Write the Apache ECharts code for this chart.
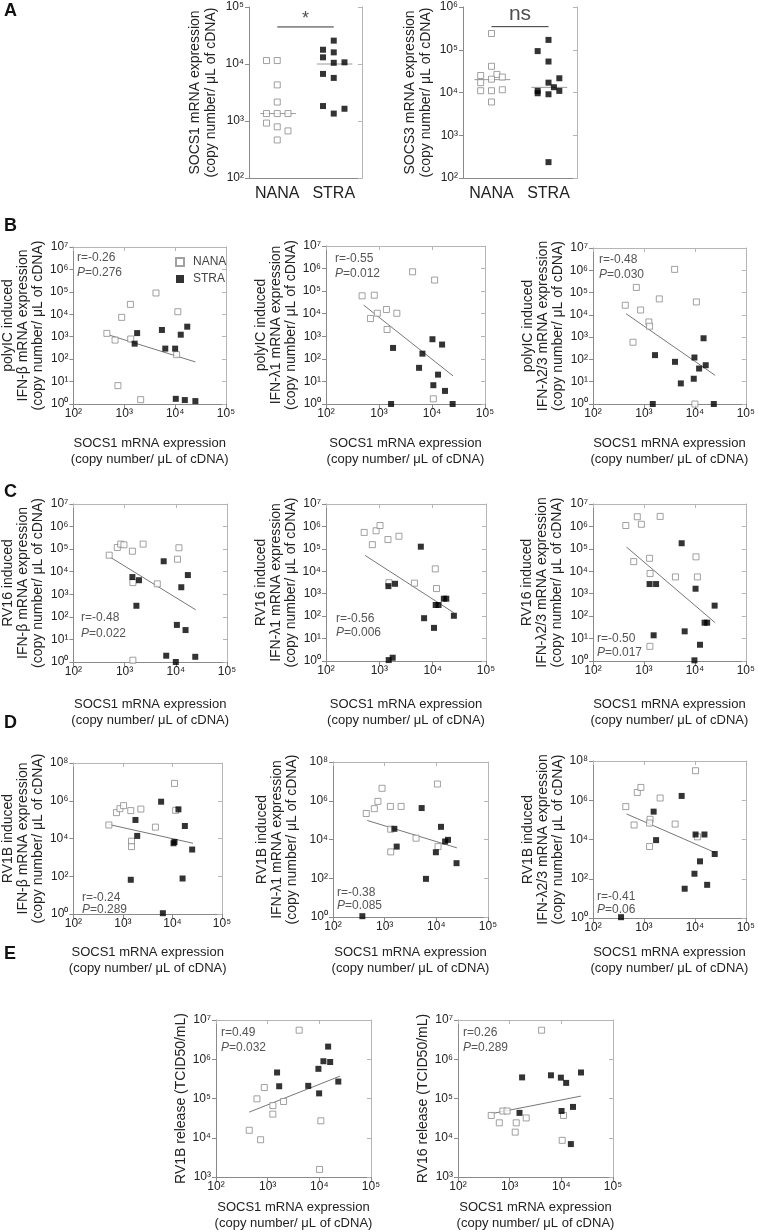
<!DOCTYPE html>
<html lang="en">
  <head>
    <meta charset="UTF-8" />
    <title>SOCS1 figure</title>
    <style>
      html, body { margin: 0; padding: 0; background: #fff; }
    </style>
  </head>
  <body>
    <div id="main" style="width: 758px; height: 1232px"></div>

    <script src="https://cdn.jsdelivr.net/npm/echarts@6/dist/echarts.min.js"></script>
    <script>
      // ===== data =====
      const groups = ['NANA', 'STRA']

      // panel A: per-subject values, col = jitter slot inside the column
      const socs1Nana = [11500, 11500, 4300, 2150, 1350, 1350, 1350, 920, 790, 670, 465]
      const socs1NanaCol = [-1, 0, 0, 0, -1, 0, 1, -1, 0, 1, 0]
      const socs1Stra = [25700, 17800, 16000, 13100, 10500, 10700, 6700, 5700, 1830, 1640, 1350]
      const socs1StraCol = [0, -1, 0, -1, 0, 1, -1, 0, -1, 1, 0]
      const socs1Median = [1350, 10000]

      const socs3Nana = [240000, 41000, 25000, 26500, 23000, 20500, 17000, 11000, 11000, 11600, 6000]
      const socs3NanaCol = [0, 0, -1, 0.5, 1, 0, -1, -1, 0, 1, 0]
      const socs3Stra = [170000, 93000, 53000, 21500, 17000, 13300, 10900, 10900, 9600, 9100, 235]
      const socs3StraCol = [0, -1, 0, 1, 0, 0.5, -1, 1, -1, 0, 0]
      const socs3Median = [20000, 13200]

      // panel B: polyIC induced
      const bBetaNanaX = [455, 660, 890, 1320, 1340, 750, 2100, 4200, 11300, 10700]
      const bBetaNanaY = [1410, 710, 7300, 27700, 790, 6.6, 1.56, 89000, 13000, 158]
      const bBetaStraX = [1790, 1600, 5500, 6400, 10000, 12900, 17300, 10300, 15500, 25000]
      const bBetaStraY = [1450, 490, 2000, 295, 295, 1230, 2800, 1.7, 1.5, 1.35]
      const bBetaFit = [[525, 1150], [25000, 75]]

      const bL1NanaX = [480, 815, 690, 930, 1380, 2170, 1420, 4300, 11200, 10600]
      const bL1NanaY = [62000, 66000, 6100, 10500, 15300, 10500, 2000, 720000, 310000, 1.7]
      const bL1StraX = [1840, 1690, 6600, 5700, 10200, 15500, 13000, 10600, 17600, 24500]
      const bL1StraY = [305, 1.0, 170, 40, 740, 430, 20, 6.8, 3.8, 1.0]
      const bL1Fit = [[515, 24000], [25000, 17.5]]

      const bL23NanaX = [430, 710, 860, 1250, 1290, 610, 2000, 4000, 10700, 10000]
      const bL23NanaY = [27000, 170000, 16500, 4800, 3100, 590, 52000, 1100000, 38000, 1]
      const bL23StraX = [1650, 1490, 4070, 5300, 9800, 9500, 14800, 12100, 16300, 23500]
      const bL23StraY = [156, 1, 78, 8.4, 122, 13.6, 890, 39, 55, 1]
      const bL23Fit = [[445, 11300], [25000, 19.3]]

      // panel C: RV16 induced
      const cBetaNanaX = [500, 720, 840, 970, 1420, 2300, 1450, 4350, 11500, 10800, 1450]
      const cBetaNanaY = [54000, 118000, 167000, 156000, 81000, 167000, 3300, 2900, 115000, 35800, 1.2]
      const cBetaStraX = [1420, 1910, 1700, 5800, 12800, 17200, 10500, 15500, 6500, 10000, 24000]
      const cBetaStraY = [5800, 4200, 310, 29000, 2050, 7100, 44, 26, 1.9, 1, 1.7]
      const cBetaFit = [[515, 45000], [24500, 205]]

      const cL1NanaX = [520, 740, 870, 1030, 1450, 2330, 1510, 4550, 11200, 11800]
      const cL1NanaY = [540000, 154000, 640000, 1100000, 260000, 365000, 3100, 2960, 12800, 1700]
      const cL1StraX = [1480, 1970, 6000, 6900, 10600, 11400, 12900, 16200, 18000, 25000, 1500, 1780]
      const cL1StraY = [2180, 2770, 125000, 81, 30, 314, 314, 600, 600, 104, 1.1, 1.4]
      const cL1Fit = [[540, 51000], [25000, 141]]

      const cL23NanaX = [440, 740, 890, 2080, 630, 1290, 1320, 4150, 10500, 11200, 1310]
      const cL23NanaY = [1100000, 2700000, 1250000, 2800000, 27000, 38000, 8000, 5600, 44000, 5600, 4.5]
      const cL23StraX = [1290, 1730, 5500, 10300, 24400, 15500, 17400, 6300, 1550, 12600, 9800]
      const cL23StraY = [2700, 2700, 178000, 1670, 294, 51, 51, 21, 14, 5.3, 1.07]
      const cL23Fit = [[455, 120000], [25000, 51]]

      // panel D: RV1B induced
      const dBetaNanaX = [520, 740, 870, 1030, 1440, 2300, 1490, 1490, 4530, 11000, 11600]
      const dBetaNanaY = [52000, 234000, 380000, 550000, 300000, 363000, 7200, 3700, 40000, 8300000, 310000]
      const dBetaStraX = [1790, 1940, 1440, 5900, 13200, 17800, 10500, 11000, 25000, 16000, 6400]
      const dBetaStraY = [96000, 13700, 65, 890000, 350000, 46000, 5600, 6600, 2600, 76, 1.1]
      const dBetaFit = [[510, 56000], [26000, 5600]]

      const dL1NanaX = [440, 630, 740, 890, 1290, 2080, 1310, 1310, 4050, 10500, 10800]
      const dL1NanaY = [220000, 390000, 930000, 4400000, 510000, 510000, 34000, 2300, 11700, 7300000, 4300]
      const dL1StraX = [1540, 1710, 5200, 12300, 9800, 14800, 16800, 24600, 6300, 370]
      const dL1StraY = [35600, 4300, 420000, 45000, 2200, 7900, 9600, 600, 93, 1.1]
      const dL1Fit = [[460, 96000], [25000, 3700]]

      const dL23NanaX = [440, 740, 870, 640, 1320, 1290, 2080, 1290, 4100, 10300, 11200]
      const dL23NanaY = [475000, 2500000, 4500000, 55000, 107000, 69000, 1300000, 4400, 61000, 32000000, 13700]
      const dL23StraX = [1550, 1730, 5500, 10300, 15400, 24500, 12600, 9800, 6300, 17400, 355]
      const dL23StraY = [263000, 9300, 1660000, 18000, 18000, 1830, 770, 180, 31, 49, 1.1]
      const dL23Fit = [[455, 200000], [25000, 2150]]

      // panel E: virus release
      const eRv1bNanaX = [440, 620, 860, 730, 1260, 1260, 2030, 4070, 10700, 10100]
      const eRv1bNanaY = [15500, 98000, 190000, 8900, 66000, 40000, 84000, 5500000, 27000, 1560]
      const eRv1bStraX = [1520, 1670, 6100, 9600, 12000, 16200, 14800, 23300, 9900]
      const eRv1bStraY = [460000, 205000, 210000, 570000, 890000, 850000, 2100000, 270000, 135000]
      const eRv1bFit = [[440, 45000], [25000, 370000]]

      const eRv16NanaX = [440, 630, 740, 890, 1340, 1280, 2090, 4150, 11000, 10400]
      const eRv16NanaY = [37000, 24000, 48000, 48000, 24000, 13900, 32000, 5500000, 37000, 8600]
      const eRv16StraX = [1550, 1740, 6300, 9800, 12400, 24000, 10100, 16800, 15300]
      const eRv16StraY = [43000, 345000, 390000, 340000, 250000, 460000, 48000, 61000, 6900]
      const eRv16Fit = [[440, 41000], [24000, 115000]]
      // ===== data =====

      const FONT = '"Liberation Sans", Arial, Helvetica, sans-serif'
      const AX = '#8a8a8a'
      const AX2 = '#b5b5b5'
      const COPY = '(copy number/ μL of cDNA)'
      const X_TITLE = ['SOCS1 mRNA expression', COPY].join('\n')
      const sup = ['⁰', '¹', '²', '³', '⁴', '⁵', '⁶', '⁷', '⁸']
      const pow = v => '10' + sup[Math.round(v)]
      const lg = Math.log10
      const pts = (xs, ys) => xs.map((x, i) => [lg(x), lg(ys[i])])

      const option = {
        animation: false,
        backgroundColor: '#fff',
        textStyle: { fontFamily: FONT },
        grid: [],
        xAxis: [],
        yAxis: [],
        series: [],
        graphic: [],
        legend: {
          left: 170,
          top: 251,
          orient: 'vertical',
          itemGap: 5,
          itemWidth: 8,
          itemHeight: 8,
          data: groups,
          textStyle: { fontSize: 12, color: '#444', padding: [0, 0, 0, 4] }
        }
      }

      function addGrid (box) {
        option.grid.push({ left: box[0], top: box[1], width: box[2] - box[0], height: box[3] - box[1] })
        return option.grid.length - 1
      }

      function rightAxis (g, min, max, step) {
        return {
          gridIndex: g, type: 'value', position: 'right', min, max, interval: step,
          axisLine: { show: true, onZero: false, lineStyle: { color: AX2 } },
          axisTick: { inside: true, length: 4, lineStyle: { color: AX2 } },
          axisLabel: { show: false },
          splitLine: { show: false }
        }
      }

      // dot plots of panel A
      function addDot (p) {
        const g = addGrid(p.box)
        const xi = option.xAxis.length
        const yi = option.yAxis.length
        option.xAxis.push({
          gridIndex: g, type: 'value', min: 0, max: 2, interval: 0.5,
          axisLine: { onZero: false, lineStyle: { color: AX } },
          axisTick: { show: false },
          axisLabel: {
            margin: 8, fontSize: 16, color: '#222',
            formatter: v => (v === 0.5 ? groups[0] : v === 1.5 ? groups[1] : '')
          },
          splitLine: { show: false }
        })
        option.yAxis.push({
          gridIndex: g, type: 'value', min: 2, max: p.yMax, interval: 1,
          name: p.yName.join('\n'), nameLocation: 'middle', nameRotate: 90, nameGap: p.yGap,
          nameTextStyle: { fontSize: 14, lineHeight: 16, color: '#222' },
          axisLine: { onZero: false, lineStyle: { color: AX } },
          axisTick: { length: 4, lineStyle: { color: AX } },
          axisLabel: { formatter: pow, fontSize: 12, margin: 5, color: '#222' },
          splitLine: { show: false }
        })
        option.yAxis.push(rightAxis(g, 2, p.yMax, 1))
        const sets = [[p.nana, p.nanaCol], [p.stra, p.straCol]]
        sets.forEach(([vals, cols], k) => {
          option.series.push({
            type: 'scatter', name: groups[k], xAxisIndex: xi, yAxisIndex: yi,
            symbol: 'rect', symbolSize: 6, z: 3 + k,
            itemStyle: k === 0 ? { color: '#fff', borderColor: '#8a8a8a', borderWidth: 1 } : { color: '#000' },
            data: vals.map((v, i) => [k + 0.5 + cols[i] * 0.19, lg(v)])
          })
          option.series.push({
            type: 'line', xAxisIndex: xi, yAxisIndex: yi, symbol: 'none', silent: true, z: 2,
            lineStyle: { color: '#9a9a9a', width: 1 },
            data: [[k + 0.2, lg(p.median[k])], [k + 0.83, lg(p.median[k])]]
          })
        })
        option.series.push({
          type: 'line', xAxisIndex: xi, yAxisIndex: yi, symbol: 'none', silent: true,
          lineStyle: { color: '#333', width: 1 },
          data: [[0.5, p.sig], [1.5, p.sig]]
        })
        option.series.push({
          type: 'scatter', xAxisIndex: xi, yAxisIndex: yi, symbolSize: 1, silent: true,
          itemStyle: { color: 'rgba(0,0,0,0)' },
          label: { show: true, position: 'top', distance: p.markGap, formatter: p.mark, fontSize: p.markSize, color: '#222' },
          data: [[1, p.sig]]
        })
      }

      // log-log scatter panels B-E
      function addScatter (p) {
        const g = addGrid(p.box)
        const xi = option.xAxis.length
        const yi = option.yAxis.length
        const yMin = p.yMin || 0
        const yMax = p.yMax || 7
        const yStep = p.yStep || 1
        option.xAxis.push({
          gridIndex: g, type: 'value', min: 2, max: 5, interval: 1,
          name: X_TITLE, nameLocation: 'middle', nameGap: p.xGap,
          nameTextStyle: { fontSize: 13, lineHeight: 16, color: '#222', verticalAlign: 'top' },
          axisLine: { onZero: false, lineStyle: { color: AX } },
          axisTick: { length: 4, lineStyle: { color: AX } },
          axisLabel: { formatter: pow, fontSize: 12, margin: 4, color: '#222' },
          splitLine: { show: false }
        })
        option.xAxis.push({
          gridIndex: g, type: 'value', position: 'top', min: 2, max: 5, interval: 1,
          axisLine: { onZero: false, lineStyle: { color: AX2 } },
          axisTick: { inside: true, length: 4, lineStyle: { color: AX2 } },
          axisLabel: { show: false },
          splitLine: { show: false }
        })
        option.yAxis.push({
          gridIndex: g, type: 'value', min: yMin, max: yMax, interval: yStep,
          name: p.yName.join('\n'), nameLocation: 'middle', nameRotate: 90, nameGap: p.yGap,
          nameTextStyle: { fontSize: 14, lineHeight: 15, color: '#222' },
          axisLine: { onZero: false, lineStyle: { color: AX } },
          axisTick: { length: 4, lineStyle: { color: AX } },
          axisLabel: { formatter: pow, fontSize: 12, margin: 5, color: '#222' },
          splitLine: { show: false }
        })
        option.yAxis.push(rightAxis(g, yMin, yMax, yStep))

        option.series.push({
          type: 'scatter', name: groups[0], xAxisIndex: xi, yAxisIndex: yi,
          symbol: 'rect', symbolSize: 6, z: 3,
          itemStyle: { color: '#fff', borderColor: '#8a8a8a', borderWidth: 1 },
          data: pts(p.nx, p.ny)
        })
        option.series.push({
          type: 'scatter', name: groups[1], xAxisIndex: xi, yAxisIndex: yi,
          symbol: 'rect', symbolSize: 6, z: 4,
          itemStyle: { color: '#000' },
          data: pts(p.sx, p.sy)
        })
        option.series.push({
          type: 'line', xAxisIndex: xi, yAxisIndex: yi, symbol: 'none', silent: true, z: 2,
          lineStyle: { color: '#777', width: 1 },
          data: p.fit.map(([x, y]) => [lg(x), lg(y)])
        })

        const [sx, sy1, sy2] = p.statAt
        option.graphic.push({
          type: 'text', x: sx, y: sy1,
          style: { text: 'r=' + p.stat[0], font: '12px ' + FONT, fill: '#555', verticalAlign: 'middle' }
        })
        option.graphic.push({
          type: 'text', x: sx, y: sy2,
          style: {
            text: '{i|P}{n|=' + p.stat[1] + '}',
            verticalAlign: 'middle',
            rich: {
              i: { fontStyle: 'italic', fontSize: 12, fontFamily: FONT, fill: '#555' },
              n: { fontSize: 12, fontFamily: FONT, fill: '#555' }
            }
          }
        })
      }

      addDot({
        box: [249, 7, 362, 178], yMax: 5, yGap: 30,
        yName: ['SOCS1 mRNA expression', COPY],
        nana: socs1Nana, nanaCol: socs1NanaCol, stra: socs1Stra, straCol: socs1StraCol,
        median: socs1Median, sig: 4.65, mark: '*', markSize: 18, markGap: -2
      })
      addDot({
        box: [463, 7, 577, 178], yMax: 6, yGap: 29,
        yName: ['SOCS3 mRNA expression', COPY],
        nana: socs3Nana, nanaCol: socs3NanaCol, stra: socs3Stra, straCol: socs3StraCol,
        median: socs3Median, sig: 5.54, mark: 'ns', markSize: 21, markGap: 1
      })

      const beta = 'IFN-β mRNA expression'
      const l1 = 'IFN-λ1 mRNA expression'
      const l23 = 'IFN-λ2/3 mRNA expression'

      const panels = [
        { box: [73, 247, 226, 404], yName: ['polyIC induced', beta, COPY], yGap: 24, xGap: 31,
          nx: bBetaNanaX, ny: bBetaNanaY, sx: bBetaStraX, sy: bBetaStraY, fit: bBetaFit,
          stat: ['-0.26', '0.276'], statAt: [77, 258, 273] },
        { box: [326, 246, 485, 404], yName: ['polyIC induced', l1, COPY], yGap: 22, xGap: 31,
          nx: bL1NanaX, ny: bL1NanaY, sx: bL1StraX, sy: bL1StraY, fit: bL1Fit,
          stat: ['-0.55', '0.012'], statAt: [335, 259, 274] },
        { box: [593, 248, 748, 404], yName: ['polyIC induced', l23, COPY], yGap: 26, xGap: 31,
          nx: bL23NanaX, ny: bL23NanaY, sx: bL23StraX, sy: bL23StraY, fit: bL23Fit,
          stat: ['-0.48', '0.030'], statAt: [599, 260, 275] },
        { box: [67, 504, 227, 662], yName: ['RV16 induced', beta, COPY], yGap: 18, xGap: 34,
          nx: cBetaNanaX, ny: cBetaNanaY, sx: cBetaStraX, sy: cBetaStraY, fit: cBetaFit,
          stat: ['-0.48', '0.022'], statAt: [81, 618, 634] },
        { box: [326, 504, 486, 661], yName: ['RV16 induced', l1, COPY], yGap: 24, xGap: 35,
          nx: cL1NanaX, ny: cL1NanaY, sx: cL1StraX, sy: cL1StraY, fit: cL1Fit,
          stat: ['-0.56', '0.006'], statAt: [336, 619, 633] },
        { box: [593, 504, 748, 661], yName: ['RV16 induced', l23, COPY], yGap: 28, xGap: 35,
          nx: cL23NanaX, ny: cL23NanaY, sx: cL23StraX, sy: cL23StraY, fit: cL23Fit,
          stat: ['-0.50', '0.017'], statAt: [597, 639, 653] },
        { box: [67, 763, 222, 914], yMax: 8, yStep: 2, yName: ['RV1B induced', beta, COPY], yGap: 18, xGap: 30,
          nx: dBetaNanaX, ny: dBetaNanaY, sx: dBetaStraX, sy: dBetaStraY, fit: dBetaFit,
          stat: ['-0.24', '0.289'], statAt: [82, 898, 910] },
        { box: [333, 762, 488, 917], yMax: 8, yStep: 2, yName: ['RV1B induced', l1, COPY], yGap: 33, xGap: 27,
          nx: dL1NanaX, ny: dL1NanaY, sx: dL1StraX, sy: dL1StraY, fit: dL1Fit,
          stat: ['-0.38', '0.085'], statAt: [337, 893, 906] },
        { box: [593, 761, 748, 918], yMax: 8, yStep: 2, yName: ['RV1B induced', l23, COPY], yGap: 26, xGap: 26,
          nx: dL23NanaX, ny: dL23NanaY, sx: dL23StraX, sy: dL23StraY, fit: dL23Fit,
          stat: ['-0.41', '0.06'], statAt: [597, 897, 910] },
        { box: [216, 1020, 371, 1177], yMin: 3, yName: ['RV1B release (TCID50/mL)'], yGap: 24, xGap: 22,
          nx: eRv1bNanaX, ny: eRv1bNanaY, sx: eRv1bStraX, sy: eRv1bStraY, fit: eRv1bFit,
          stat: ['0.49', '0.032'], statAt: [221, 1033, 1048] },
        { box: [458, 1020, 613, 1177], yMin: 3, yName: ['RV16 release (TCID50/mL)'], yGap: 23, xGap: 22,
          nx: eRv16NanaX, ny: eRv16NanaY, sx: eRv16StraX, sy: eRv16StraY, fit: eRv16Fit,
          stat: ['0.26', '0.289'], statAt: [463, 1033, 1048] }
      ]
      panels.forEach(addScatter)

      // panel letters
      const letters = [['A', 11], ['B', 226], ['C', 492], ['D', 723], ['E', 954]]
      letters.forEach(([t, y]) => {
        option.graphic.push({
          type: 'text', x: 4, y,
          style: { text: t, font: 'bold 18px ' + FONT, fill: '#111', verticalAlign: 'middle' }
        })
      })

      const myChart = echarts.init(document.getElementById('main'))
      myChart.setOption(option)
    </script>
  </body>
</html>
